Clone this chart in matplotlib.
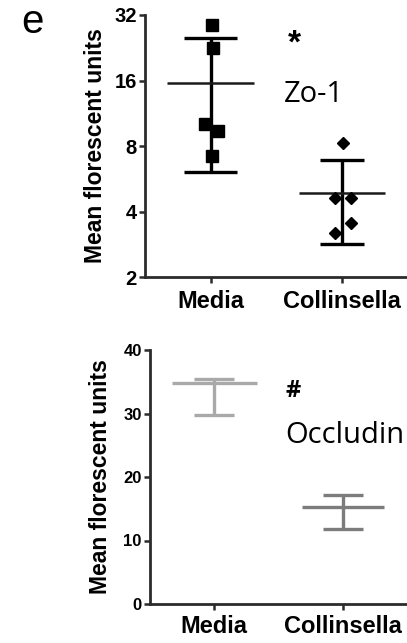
import numpy as np
import matplotlib
matplotlib.use("Agg")
import matplotlib.pyplot as plt
from matplotlib.ticker import FixedLocator, NullLocator

# ---- data ----
groups = ["Media", "Collinsella"]

zo1_media = [28.8, 22.6, 10.1, 9.4, 7.2]
zo1_collinsella = [8.3, 4.6, 4.6, 3.55, 3.2]

occludin_mean = [34.8, 15.35]
occludin_upper = [35.5, 17.2]
occludin_lower = [29.7, 11.8]

zo1_ticks = [2, 4, 8, 16, 32]
occludin_ticks = [0, 10, 20, 30, 40]

# horizontal scatter offsets for the individual points
media_jitter = [0.013, 0.015, -0.046, 0.053, 0.008]
coll_jitter = [0.008, -0.053, 0.069, 0.069, -0.053]

W, H = 407, 643
fig = plt.figure(figsize=(W / 100, H / 100), dpi=100)

SANS = "Liberation Sans"
HUMAN = "Open Sans"
AX_COL = "#2b2b2b"


def style_axes(ax, tick_size, xpad):
    for s in ("top", "right"):
        ax.spines[s].set_visible(False)
    for s in ("left", "bottom"):
        ax.spines[s].set_linewidth(2.0)
        ax.spines[s].set_color(AX_COL)
    ax.tick_params(axis="both", which="major", length=4, width=1.8,
                   color=AX_COL, direction="out")
    ax.tick_params(axis="y", pad=2)
    ax.tick_params(axis="x", pad=xpad)
    ax.set_xlim(-0.5, 1.5)
    ax.set_xticks([0, 1])
    ax.set_xticklabels(groups, fontfamily=SANS, fontweight="bold", fontsize=17)
    for lab in ax.get_yticklabels():
        lab.set_fontfamily(SANS)
        lab.set_fontweight("bold")
        lab.set_fontsize(tick_size)
    ax.set_ylabel("Mean florescent units", fontfamily=SANS,
                  fontweight="bold", fontsize=16.5)


# ---- Zo-1 panel (log2 scale) ----
ax1 = fig.add_axes([145 / W, 1 - 277 / H, 262.5 / W, 262 / H])
ax1.set_yscale("log", base=2)
ax1.set_ylim(2, 32)
ax1.yaxis.set_major_locator(FixedLocator(zo1_ticks))
ax1.yaxis.set_minor_locator(NullLocator())
ax1.set_yticklabels([str(t) for t in zo1_ticks])

for i, (vals, jit, mk, ms, mean_hw, cap_hw) in enumerate([
        (zo1_media, media_jitter, "s", 8.5, 0.33, 0.20),
        (zo1_collinsella, coll_jitter, "D", 6.0, 0.33, 0.165)]):
    v = np.asarray(vals)
    m = v.mean()
    sd = v.std(ddof=1)
    ax1.vlines(i, m - sd, m + sd, color="black", lw=2.4, zorder=2)
    ax1.hlines([m - sd, m + sd], i - cap_hw, i + cap_hw, color="black",
               lw=2.4, zorder=2)
    ax1.hlines(m, i - mean_hw, i + mean_hw, color="#1a1a1a", lw=1.8, zorder=2)
    ax1.plot(i + np.asarray(jit), v, linestyle="none", marker=mk,
             markersize=ms, color="black", zorder=3)

style_axes(ax1, 14.5, 5)
ax1.yaxis.set_label_coords(-0.145, 0.5)

# ---- Occludin panel ----
ax2 = fig.add_axes([150 / W, 1 - 604 / H, 257 / W, 254 / H])
ax2.set_ylim(0, 40)
ax2.set_yticks(occludin_ticks)
ax2.set_yticklabels([str(t) for t in occludin_ticks])

occ_colors = ["#a9a9a9", "#7c7c7c"]
occ_mean_hw = [0.33, 0.32]
occ_cap_hw = [0.155, 0.155]
for i in range(len(groups)):
    c = occ_colors[i]
    ax2.vlines(i, occludin_lower[i], occludin_upper[i], color=c, lw=2.4)
    ax2.hlines([occludin_lower[i], occludin_upper[i]], i - occ_cap_hw[i],
               i + occ_cap_hw[i], color=c, lw=2.4)
    ax2.hlines(occludin_mean[i], i - occ_mean_hw[i], i + occ_mean_hw[i],
               color=c, lw=2.4)

style_axes(ax2, 12, 4)
ax2.yaxis.set_label_coords(-0.148, 0.5)

# ---- panel letter and annotations ----
fig.text(21 / W, 1 - 33 / H, "e", fontfamily=SANS, fontsize=29,
         ha="left", va="baseline")
fig.text(294.5 / W, 1 - 44 / H, "*", fontfamily=SANS, fontweight="bold",
         fontsize=24, ha="center", va="center")
fig.text(284 / W, 1 - 102 / H, "Zo-1", fontfamily=HUMAN, fontsize=21,
         ha="left", va="baseline")
fig.text(293.5 / W, 1 - 391 / H, "#", fontfamily=HUMAN, fontweight="bold",
         fontsize=17, ha="center", va="center")
fig.text(285 / W, 1 - 443 / H, "Occludin", fontfamily=HUMAN, fontsize=21,
         ha="left", va="baseline")

fig.savefig("out.png", dpi=100, facecolor="white")
